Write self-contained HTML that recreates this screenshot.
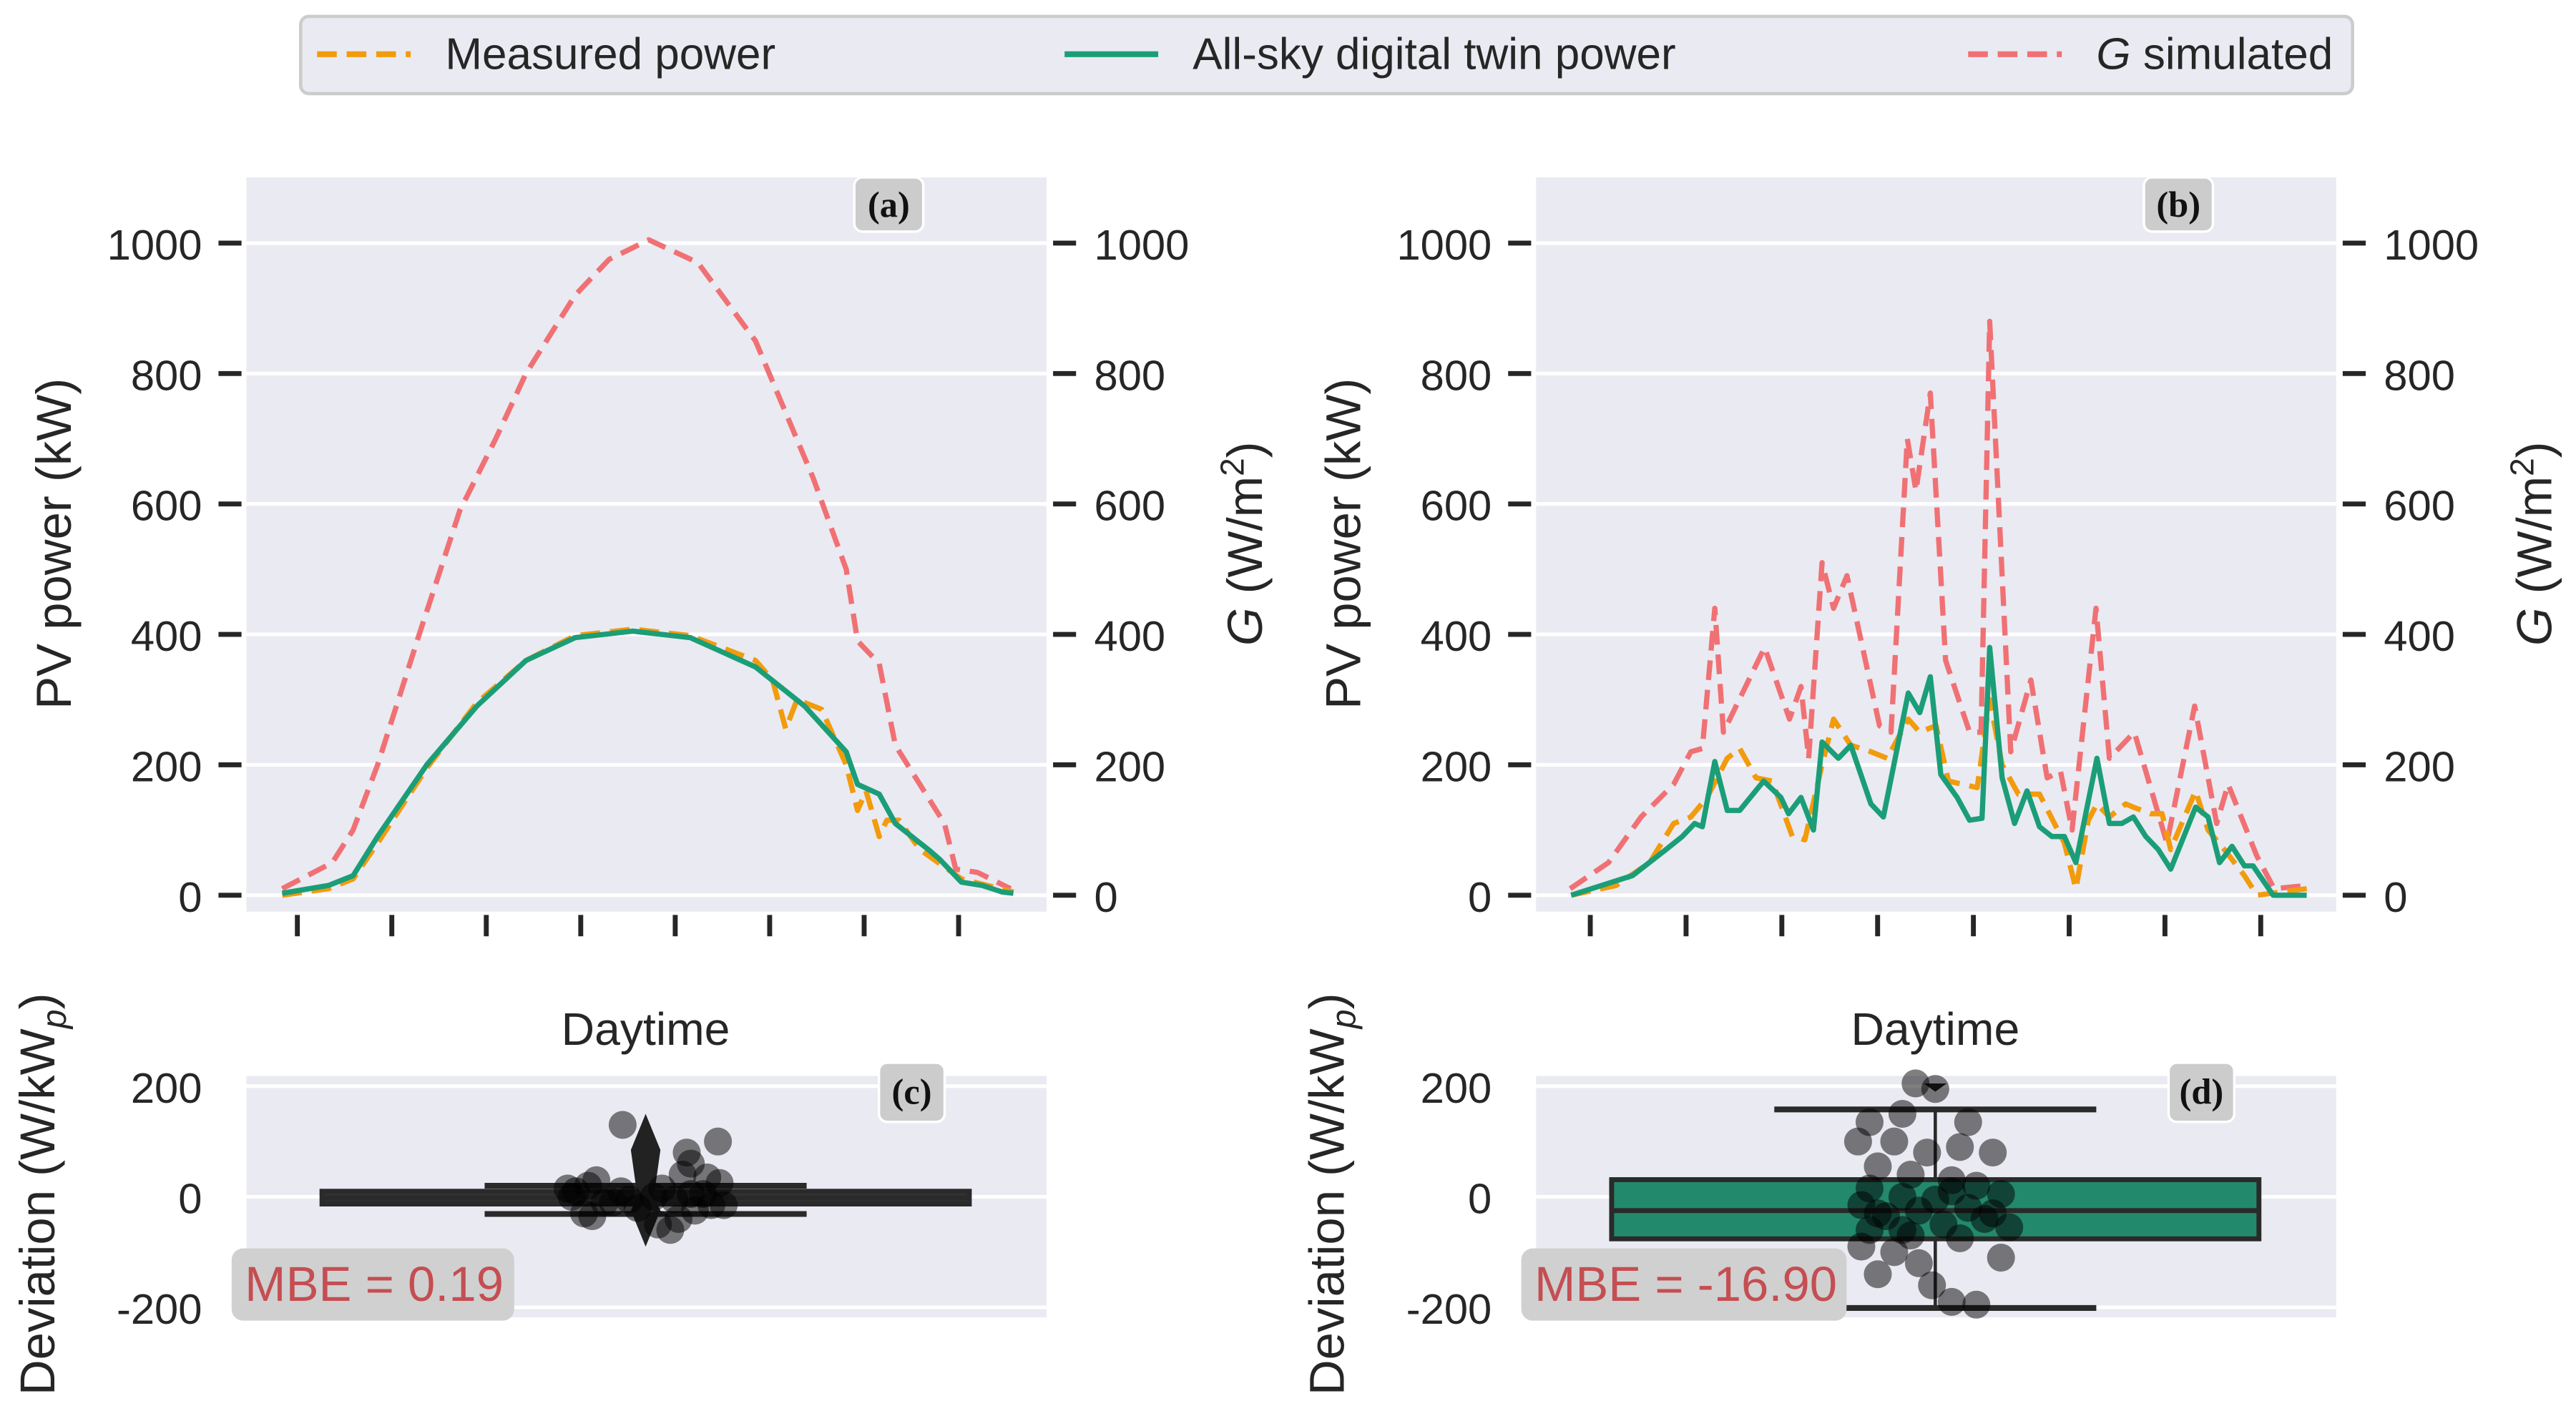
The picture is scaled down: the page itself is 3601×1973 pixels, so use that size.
<!DOCTYPE html>
<html><head><meta charset="utf-8"><style>
html,body{margin:0;padding:0;background:#fff}
svg{display:block;font-family:"Liberation Sans","DejaVu Sans",sans-serif}
</style></head><body>
<svg id="fig" xmlns="http://www.w3.org/2000/svg" width="3601" height="1973" viewBox="0 0 1568 859" preserveAspectRatio="none">
<g>
<rect x="183" y="10" width="1249" height="47" rx="5" fill="#eaeaf2" stroke="#cccccc" stroke-width="2"/>
<line x1="193" y1="33" x2="250" y2="33" stroke="#f29b0c" stroke-width="3.5" stroke-dasharray="12,6"/>
<text x="271" y="42" font-size="27" fill="#262626">Measured power</text>
<line x1="648" y1="33" x2="705" y2="33" stroke="#1b9e77" stroke-width="3.5"/>
<text x="726" y="42" font-size="27" fill="#262626">All-sky digital twin power</text>
<line x1="1198" y1="33" x2="1255" y2="33" stroke="#f07174" stroke-width="3.5" stroke-dasharray="12,6"/>
<text x="1276" y="42" font-size="27" fill="#262626"><tspan font-style="italic">G</tspan> simulated</text>
</g>
<g id="root"></g>
</svg>
<script>
// ---- data ----
const tickHours = [7,8,9,10,11,12,13,14];
const aGTime = [6.84,7.37,7.59,7.85,8.29,8.72,9.1,9.42,9.94,10.3,10.72,11.24,11.85,12.46,12.81,12.93,13.16,13.33,13.85,13.97,14.2,14.55];
const aGVal  = [10,50,100,200,400,590,700,800,920,975,1005,970,850,640,500,390,355,230,110,40,35,10];
const aPwTime = [6.84,7.33,7.59,7.85,8.37,8.9,9.42,9.94,10.55,11.16,11.85,12.37,12.81,12.93,13.16,13.33,13.68,13.8,14.03,14.25,14.46,14.58];
const aPwVal  = [3,15,30,90,200,290,360,395,405,395,350,290,220,170,155,110,70,55,20,15,5,3];
const aMsTime = [6.84,7.33,7.59,7.85,8.37,8.9,9.42,9.94,10.55,11.16,11.85,12.03,12.17,12.29,12.55,12.81,12.93,13.02,13.16,13.24,13.37,13.59,14.03,14.58];
const aMsVal  = [0,10,25,80,195,295,360,398,408,398,360,330,255,300,285,200,130,160,90,115,115,70,25,5];
const bGTime = [6.79,7.19,7.53,7.87,8.05,8.17,8.30,8.39,8.82,9.08,9.20,9.28,9.42,9.54,9.68,10.02,10.14,10.31,10.40,10.55,10.71,10.96,11.08,11.17,11.39,11.60,11.77,11.91,12.03,12.28,12.42,12.68,13.02,13.31,13.54,13.66,13.96,14.14,14.48];
const bGVal  = [10,50,120,170,220,225,440,250,380,270,320,210,510,440,490,260,250,700,620,770,360,250,250,880,220,330,180,190,100,440,210,250,80,290,110,170,60,10,15];
const bPwTime = [6.80,7.44,7.79,7.96,8.09,8.17,8.30,8.43,8.56,8.81,8.99,9.07,9.20,9.33,9.42,9.59,9.72,9.93,10.06,10.32,10.44,10.55,10.66,10.83,10.96,11.09,11.17,11.30,11.43,11.56,11.69,11.82,11.95,12.07,12.29,12.42,12.55,12.67,12.80,12.93,13.06,13.32,13.45,13.57,13.70,13.83,13.92,14.13,14.48];
const bPwVal  = [0,30,70,90,110,105,205,130,130,175,150,125,150,100,235,210,230,140,120,310,280,335,185,150,115,118,380,180,110,160,105,90,90,50,210,110,110,120,90,70,40,135,120,50,75,45,45,0,0];
const bMsTime = [6.80,7.27,7.62,7.87,8.05,8.22,8.43,8.56,8.73,8.90,9.11,9.24,9.42,9.54,9.72,9.93,10.10,10.32,10.44,10.61,10.74,11.04,11.17,11.30,11.47,11.69,11.95,12.07,12.20,12.29,12.42,12.59,12.67,12.85,12.97,13.06,13.32,13.45,13.62,13.83,13.96,14.48];
const bMsVal  = [0,15,50,110,120,150,210,225,180,175,90,85,200,270,230,220,210,270,250,260,175,165,300,200,155,155,80,10,115,140,120,140,135,125,125,70,160,100,70,30,0,10];
const cStats = [-13,-2,10,-31,20]; // q1, median, q3, whisker low, whisker high
const cVals = [130,100,80,60,40,30,20,15,10,5,0,-5,-10,-15,-20,-25,-30,-40,-50,-60,25,10,0,-10,5,-5,35,-35,15,-15];
const cJit  = [-0.28,0.88,0.5,0.55,0.45,-0.6,-0.7,0.2,-0.3,0.7,-0.9,0.35,-0.5,0.8,-0.1,0.6,-0.75,0.4,0.15,0.3,0.9,-0.85,0.1,-0.4,0.55,-0.2,0.75,-0.65,-0.95,0.95];
const cFlier = [150,-90];
const dStats = [-76,-25,31,-201,158];
const dVals = [205,195,150,135,135,100,100,90,80,80,55,40,30,20,15,5,0,-5,-15,-20,-25,-35,-40,-50,-55,-60,-70,-75,-90,-100,-110,-120,-140,-160,-190,-195,-60,10,-30,-30];
const dJit  = [-0.24,0,-0.4,-0.8,0.4,-0.5,-0.94,0.3,0.7,-0.1,-0.7,-0.3,0.2,0.5,-0.8,0.8,-0.4,0,-0.9,0.4,-0.2,-0.6,0.6,0.1,0.9,-0.8,-0.3,0.3,-0.9,-0.5,0.8,-0.2,-0.7,-0.04,0.2,0.5,-0.4,0.2,-0.7,0.7];

const NS = "http://www.w3.org/2000/svg";
const root = document.getElementById('root');
function mk(tag, attrs, parent){const e=document.createElementNS(NS,tag);for(const k in attrs)e.setAttribute(k,attrs[k]);(parent||root).appendChild(e);return e;}
function txt(s, attrs, parent){const e=mk('text',attrs,parent);e.textContent=s;return e;}

function topPanel(ox, letter, gT,gV,pT,pV,mT,mV){
  const L=150+ox,R=637+ox,T=108,B=555;
  const x0 = ox===0 ? 181 : 968, dx = ox===0 ? 57.5 : 58.3;
  const X=h=>x0+(h-7)*dx; const Y=v=>545-v*0.397;
  const g=mk('g',{});
  
  
  const bg=mk('rect',{x:L,y:T,width:R-L,height:B-T,fill:'#eaeaf2'},g);
  
  
  for(let v=0;v<=1000;v+=200){
    mk('line',{x1:L,x2:R,y1:Y(v),y2:Y(v),stroke:'#fff','stroke-width':2.2},g);
    mk('line',{x1:L-17,x2:L-3,y1:Y(v),y2:Y(v),stroke:'#262626','stroke-width':3},g);
    mk('line',{x1:R+4,x2:R+18,y1:Y(v),y2:Y(v),stroke:'#262626','stroke-width':3},g);
    const tl=txt(String(v),{x:L-27,y:Y(v)+10,'font-size':26,'text-anchor':'end',fill:'#262626'},g);
    
    
    const tr=txt(String(v),{x:R+29,y:Y(v)+10,'font-size':26,fill:'#262626'},g);
    
    
  }
  tickHours.forEach(h=>mk('line',{x1:X(h),x2:X(h),y1:B+2,y2:B+15,stroke:'#262626','stroke-width':3},g));
  function line(T_,V_,col,dash,name){
    const p=mk('polyline',{points:T_.map((t,i)=>X(t)+','+Y(V_[i])).join(' '),fill:'none',stroke:col,'stroke-width':3.2,'stroke-linejoin':'round'},g);
    if(dash)p.setAttribute('stroke-dasharray','12,6');
    
    
  }
  line(gT,gV,'#f07174',true,'g-simulated-line-'+letter);
  line(mT,mV,'#f29b0c',true,'measured-power-line-'+letter);
  line(pT,pV,'#1b9e77',false,'twin-power-line-'+letter);
  mk('rect',{x:R-117,y:T,width:42,height:33,rx:5,fill:'#cccccc',stroke:'#fff','stroke-width':1.5},g);
  const lb=txt('('+letter+')',{x:R-96,y:T+24,'font-size':22,'font-weight':'bold','font-family':'Liberation Serif, serif','text-anchor':'middle',fill:'#111'},g);
  
  
  const yl=txt('PV power (kW)',{transform:`translate(${L-107},331) rotate(-90)`,'font-size':30,'text-anchor':'middle',fill:'#262626'},g);
  
  
  const yr=mk('text',{transform:`translate(${R+131},331) rotate(-90)`,'font-size':30,'text-anchor':'middle',fill:'#262626'},g);
  yr.innerHTML='<tspan font-style="italic">G</tspan> (W/m<tspan dy="-11" font-size="20">2</tspan><tspan dy="11">)</tspan>';
  
  
}
topPanel(0,'a',aGTime,aGVal,aPwTime,aPwVal,aMsTime,aMsVal);
topPanel(785,'b',bGTime,bGVal,bPwTime,bPwVal,bMsTime,bMsVal);

function botPanel(ox, letter, stats, vals, jit, flier, mbe){
  const L=150+ox,R=637+ox,T=655,B=802;
  const Y=v=>728.6-v*0.3367; const cx=393+ox;
  const g=mk('g',{});
  
  
  mk('rect',{x:L,y:T,width:R-L,height:B-T,fill:'#eaeaf2'},g);
  for(let v=-200;v<=200;v+=200){
    mk('line',{x1:L,x2:R,y1:Y(v),y2:Y(v),stroke:'#fff','stroke-width':2.2},g);
    const t=txt(String(v),{x:L-27,y:Y(v)+10,'font-size':26,'text-anchor':'end',fill:'#262626'},g);
    
    
  }
  const dt=txt('Daytime',{x:cx,y:636,'font-size':28,'text-anchor':'middle',fill:'#262626'},g);
  
  
  const yl=mk('text',{transform:`translate(${L-117},727) rotate(-90)`,'font-size':30,'text-anchor':'middle',fill:'#262626'},g);
  yl.innerHTML='Deviation (W/kW<tspan font-style="italic" font-size="21" dy="7">p</tspan><tspan dy="-7">)</tspan>';
  
  
  const [q1,med,q3,wl,wh]=stats;
  const bw=197, ww=98;
  const col = letter==='c' ? '#333' : '#23896c';
  const box=mk('rect',{x:cx-bw,y:Y(q3),width:2*bw,height:Math.max(Y(q1)-Y(q3),4),fill:col,stroke:'#2a2a2a','stroke-width':3},g);
  
  
  mk('line',{x1:cx-bw,x2:cx+bw,y1:Y(med),y2:Y(med),stroke:'#2a2a2a','stroke-width':3},g);
  mk('line',{x1:cx,x2:cx,y1:Y(wh),y2:Y(q3),stroke:'#2a2a2a','stroke-width':2},g);
  mk('line',{x1:cx,x2:cx,y1:Y(q1),y2:Y(wl),stroke:'#2a2a2a','stroke-width':2},g);
  mk('line',{x1:cx-ww,x2:cx+ww,y1:Y(wh),y2:Y(wh),stroke:'#2a2a2a','stroke-width':3.5},g);
  mk('line',{x1:cx-ww,x2:cx+ww,y1:Y(wl),y2:Y(wl),stroke:'#2a2a2a','stroke-width':3.5},g);
  if(flier){
    const fl=mk('polygon',{points:`${cx},${Y(flier[0])} ${cx+9},${Y(flier[0])+22} ${cx+5},${Y(0)} ${cx+9},${Y(flier[1])-22} ${cx},${Y(flier[1])} ${cx-9},${Y(flier[1])-22} ${cx-5},${Y(0)} ${cx-9},${Y(flier[0])+22}`,fill:'#222'},g);
    
    
  } else {
    mk('polygon',{points:`${cx-7},${Y(205)} ${cx+7},${Y(205)} ${cx},${Y(190)}`,fill:'#222'},g);
  }
  vals.forEach((v,i)=>{
    const c=mk('circle',{cx:cx+jit[i]*50,cy:Y(v),r:8.5,fill:'#000','fill-opacity':0.5},g);
    
    
  });
  mk('rect',{x:R-102,y:647,width:40,height:36,rx:5,fill:'#cccccc',stroke:'#fff','stroke-width':1.5},g);
  const lb=txt('('+letter+')',{x:R-82,y:672,'font-size':22,'font-weight':'bold','font-family':'Liberation Serif, serif','text-anchor':'middle',fill:'#111'},g);
  
  
  const w = letter==='c'?172:198;
  mk('rect',{x:L-9,y:760,width:w,height:44,rx:7,fill:'#d0d0d0'},g);
  const mt=txt('MBE = '+mbe,{x:L-1,y:792,'font-size':30,fill:'#c44e52'},g);
  
  
}
botPanel(0,'c',cStats,cVals,cJit,cFlier,'0.19');
botPanel(785,'d',dStats,dVals,dJit,null,'-16.90');
</script>
</body></html>
